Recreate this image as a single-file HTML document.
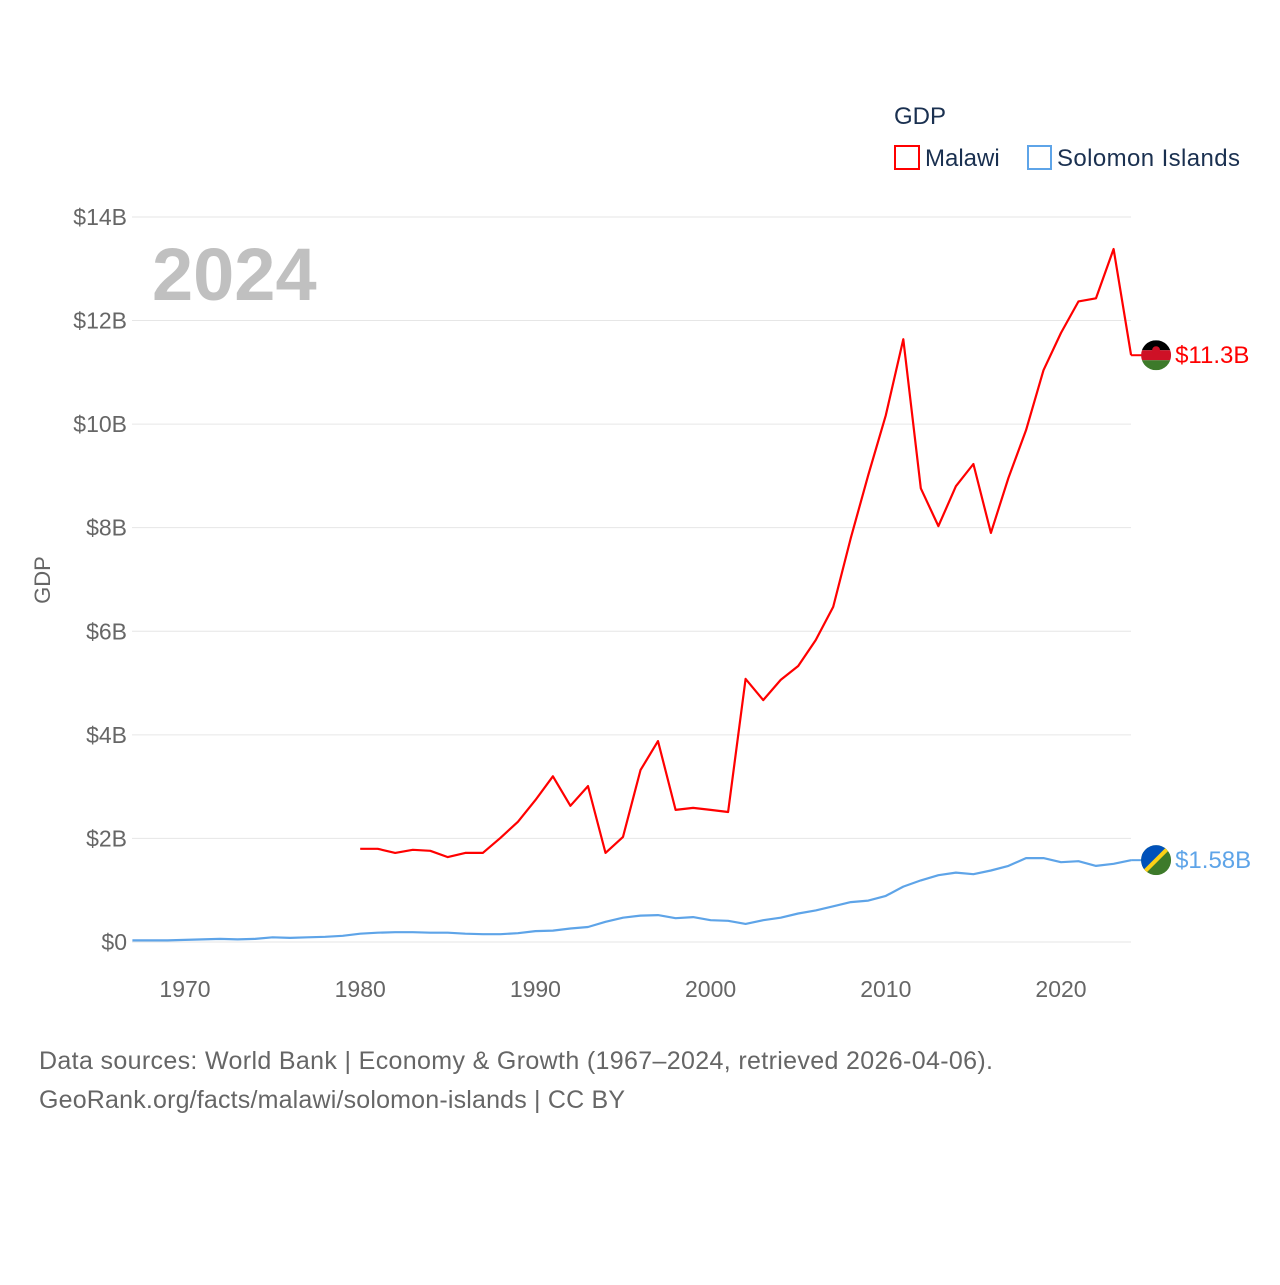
<!DOCTYPE html>
<html><head><meta charset="utf-8"><style>
body{margin:0;background:#fff;width:1280px;height:1280px;overflow:hidden;font-family:"Liberation Sans",sans-serif}
</style></head><body>
<svg id="chart" width="1280" height="1280" xmlns="http://www.w3.org/2000/svg" font-family="Liberation Sans, sans-serif">
<text x="894" y="124" font-size="24" fill="#1a3050">GDP</text>
<rect x="895" y="146" width="24" height="23" fill="none" stroke="#ff0000" stroke-width="2"/>
<text x="925" y="166" font-size="24" fill="#1a3050">Malawi</text>
<rect x="1028" y="146" width="23" height="23" fill="none" stroke="#5ea4e8" stroke-width="2"/>
<text x="1057" y="166" font-size="24" fill="#1a3050" textLength="183">Solomon Islands</text>
<text x="152" y="300" font-size="74" font-weight="bold" fill="#c0c0c0">2024</text>
<text transform="translate(50,580) rotate(-90)" text-anchor="middle" font-size="22" fill="#666">GDP</text>
<g id="grid"></g><g id="xt"></g><g id="lines"></g>
<text x="39" y="1069" font-size="25" fill="#666" textLength="954">Data sources: World Bank | Economy &amp; Growth (1967–2024, retrieved 2026-04-06).</text>
<text x="39" y="1108" font-size="25" fill="#666" textLength="586">GeoRank.org/facts/malawi/solomon-islands | CC BY</text>
</svg>
<script>
const yTicks=[0,2,4,6,8,10,12,14];
const yTickLabels=["$0","$2B","$4B","$6B","$8B","$10B","$12B","$14B"];
const xTicks=[1970,1980,1990,2000,2010,2020];
const malawiStart=1980;
const malawi=[1.80,1.80,1.72,1.78,1.76,1.64,1.72,1.72,2.01,2.32,2.74,3.20,2.63,3.01,1.72,2.03,3.32,3.88,2.55,2.59,2.55,2.51,5.08,4.67,5.06,5.33,5.83,6.47,7.80,9.02,10.17,11.64,8.76,8.03,8.80,9.23,7.90,8.96,9.88,11.04,11.76,12.37,12.43,13.38,11.33];
const solomonStart=1967;
const solomon=[0.03,0.03,0.03,0.04,0.05,0.06,0.05,0.06,0.09,0.08,0.09,0.10,0.12,0.16,0.18,0.19,0.19,0.18,0.18,0.16,0.15,0.15,0.17,0.21,0.22,0.26,0.29,0.39,0.47,0.51,0.52,0.46,0.48,0.42,0.41,0.35,0.42,0.47,0.55,0.61,0.69,0.77,0.80,0.89,1.07,1.19,1.29,1.34,1.31,1.38,1.47,1.62,1.62,1.54,1.56,1.47,1.51,1.58];
const NS="http://www.w3.org/2000/svg";
const X=yr=>185+(yr-1970)*17.52;
const Y=v=>942-v*51.79;
function mk(t,a,p){const e=document.createElementNS(NS,t);for(const k in a)e.setAttribute(k,a[k]);p.appendChild(e);return e;}
const grid=document.getElementById('grid');
yTicks.forEach((v,i)=>{
 const l=mk('line',{x1:132,x2:1131,y1:Y(v),y2:Y(v),stroke:'#e6e6e6','stroke-width':1},grid);
 
 
 const t=mk('text',{x:127,y:Y(v)+8,'text-anchor':'end','font-size':23,fill:'#666'},grid);
 t.textContent=yTickLabels[i];
 
 
});
const xt=document.getElementById('xt');
xTicks.forEach(yr=>{
 const t=mk('text',{x:X(yr),y:997,'text-anchor':'middle','font-size':23,fill:'#666'},xt);
 t.textContent=yr;
 
 
});
const lines=document.getElementById('lines');
function series(vals,start,color,name){
 const pts=vals.map((v,i)=>X(start+i).toFixed(1)+','+Y(v).toFixed(1)).join(' ');
 const p=mk('polyline',{points:pts,fill:'none',stroke:color,'stroke-width':2.2,'stroke-linejoin':'round'},lines);
 
 
 const last=vals[vals.length-1];
 const lx=X(start+vals.length-1), ly=Y(last);
 mk('line',{x1:lx,x2:lx+12,y1:ly,y2:ly,stroke:color,'stroke-width':2},lines);
 const t=mk('text',{x:lx+44,y:ly+8,'font-size':24,fill:color},lines);
 t.textContent='$'+(last>=10?last.toFixed(1):last.toFixed(2))+'B';
 
 
 return [lx+25,ly];
}
const [mx,my]=series(malawi,malawiStart,'#ff0000','malawi');
const [sx,sy]=series(solomon,solomonStart,'#5ea4e8','solomon');
const defs=mk('defs',{},lines);
const c1=mk('clipPath',{id:'cm'},defs);mk('circle',{cx:mx,cy:my,r:15},c1);
const c2=mk('clipPath',{id:'cs'},defs);mk('circle',{cx:sx,cy:sy,r:15},c2);
const fm=mk('g',{'clip-path':'url(#cm)'},lines);


mk('rect',{x:mx-15,y:my-15,width:30,height:10,fill:'#000'},fm);
mk('rect',{x:mx-15,y:my-5,width:30,height:10,fill:'#ce1126'},fm);
mk('rect',{x:mx-15,y:my+5,width:30,height:10,fill:'#3d7a2a'},fm);
mk('circle',{cx:mx,cy:my-5,r:4,fill:'#ce1126'},fm);
const fs=mk('g',{'clip-path':'url(#cs)'},lines);


mk('rect',{x:sx-15,y:sy-15,width:30,height:30,fill:'#3d7a2a'},fs);
mk('polygon',{points:`${sx-15},${sy-15} ${sx+15},${sy-15} ${sx-15},${sy+15}`,fill:'#0051ba'},fs);
mk('line',{x1:sx-15,y1:sy+15,x2:sx+15,y2:sy-15,stroke:'#fcd116','stroke-width':4},fs);
</script>
</body></html>
